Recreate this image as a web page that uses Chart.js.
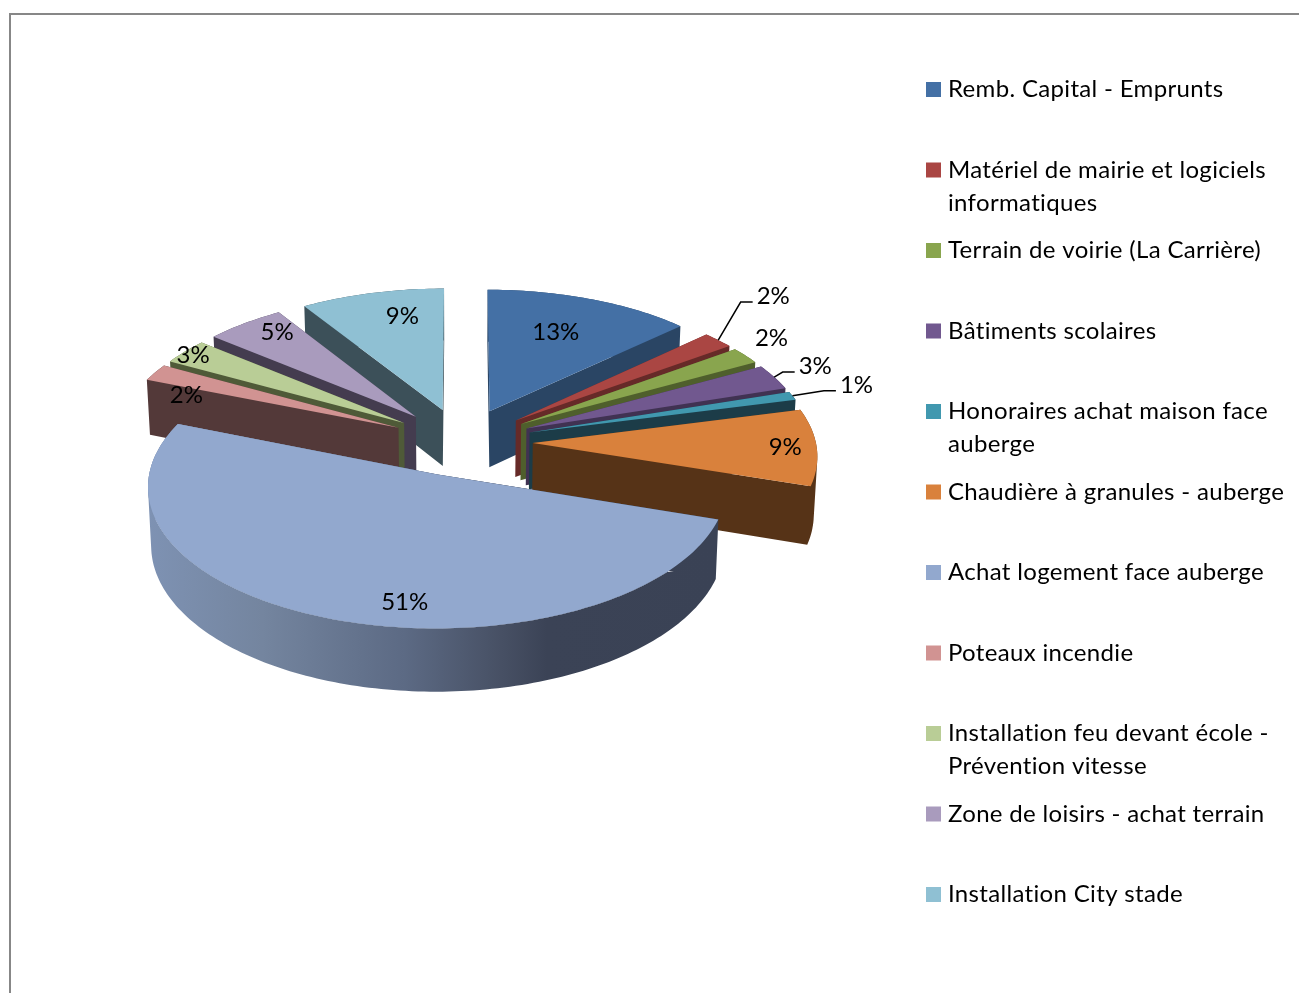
<!DOCTYPE html>
<html>
<head>
<meta charset="utf-8">
<title>Investissements</title>
<script src="https://cdn.jsdelivr.net/npm/chart.js@4"></script>
<style>
  html, body { margin: 0; padding: 0; background: #fff; overflow: hidden; }
  canvas { display: block; }
</style>
</head>
<body>
<canvas id="pieChart" width="1299" height="993"></canvas>
<script>
// data
var categories = [
    ['Remb. Capital - Emprunts'],
    ['Matériel de mairie et logiciels', 'informatiques'],
    ['Terrain de voirie (La Carrière)'],
    ['Bâtiments scolaires'],
    ['Honoraires achat maison face', 'auberge'],
    ['Chaudière à granules - auberge'],
    ['Achat logement face auberge'],
    ['Poteaux incendie'],
    ['Installation feu devant école -', 'Prévention vitesse'],
    ['Zone de loisirs - achat terrain'],
    ['Installation City stade']
];
var values = [13, 2, 2, 3, 1, 9, 51, 2, 3, 5, 9];

// colours
var topColors = ['#4470a5', '#aa4643', '#89a54e', '#71588f', '#4198af', '#d9813c', '#92a8ce', '#d19392', '#b9cd96', '#a99bbd', '#8fc0d3'];
var wallColors = ['#2a4564', '#662a28', '#4f5f2c', '#403252', '#1c3c48', '#563317', '#3b4356', '#533939', '#4f5a38', '#443c4f', '#3c5059'];

// fake 3D, a tilted pie seen in perspective
var explode = 0.25;      // slice pull out, fraction of the radius
var squash = 0.4806;     // tilt
var persp = 0.08;        // near side gets bigger
var wallHeight = 57;
var wallTaper = 0.99;    // bottom of the wall is further away

// percent labels: radial position + small nudge, leader line or not
var labelFrac = [0.7, 1, 1, 1, 1, 0.9, 0.8, 0.8, 0.9, 0.8, 0.8];
var labelNudge = [[-6, 0], [55, -45], [26, -18], [41, -12], [64, -12], [-3, -1], [52, 13], [-16, 11], [-13, -4], [0, -10], [17, 0]];
var leader = [false, true, false, true, true, false, false, false, false, false, false];

var baseRadius = 283;
var fontName = '24px Lato';

function midAngle(arc) {
    return (arc.startAngle + arc.endAngle) / 2;
}

// pie plane (unit radius, x right, y towards viewer) to screen
function project(arc, X, Y) {
    var d = 1 - persp * Y;
    return {
        x: arc.x + arc.outerRadius * X / d,
        y: arc.y + arc.outerRadius * squash * Y / d,
        d: d
    };
}

// outline of the top face of a slice, taken from the arc element
function outline(arc) {
    var a = midAngle(arc);
    var ox = Math.cos(a) * explode;
    var oy = Math.sin(a) * explode;
    var pts = [project(arc, ox, oy)];
    var n = Math.max(2, Math.ceil((arc.endAngle - arc.startAngle) / 0.02));
    for (var k = 0; k <= n; k++) {
        var t = arc.startAngle + (arc.endAngle - arc.startAngle) * k / n;
        pts.push(project(arc, ox + Math.cos(t), oy + Math.sin(t)));
    }
    return pts;
}

function wallPoint(arc, p) {
    return {
        x: arc.x + (p.x - arc.x) * wallTaper,
        y: p.y + wallHeight / p.d
    };
}

// all side faces in one path, same winding, so no seams between them
function drawWall(ctx, arc, pts, color) {
    ctx.fillStyle = color;
    ctx.beginPath();
    for (var k = 0; k < pts.length; k++) {
        var a = pts[k];
        var b = pts[(k + 1) % pts.length];
        var c = wallPoint(arc, b);
        var e = wallPoint(arc, a);
        var area = (b.x - a.x) * (c.y - a.y) - (b.y - a.y) * (c.x - a.x);
        ctx.moveTo(a.x, a.y);
        if (area > 0) {
            ctx.lineTo(b.x, b.y);
            ctx.lineTo(c.x, c.y);
            ctx.lineTo(e.x, e.y);
        } else {
            ctx.lineTo(e.x, e.y);
            ctx.lineTo(c.x, c.y);
            ctx.lineTo(b.x, b.y);
        }
        ctx.closePath();
    }
    ctx.fill();
}

function drawTop(ctx, pts, color) {
    ctx.fillStyle = color;
    ctx.beginPath();
    pts.forEach(function(p, k) {
        if (k === 0) ctx.moveTo(p.x, p.y);
        else ctx.lineTo(p.x, p.y);
    });
    ctx.closePath();
    ctx.fill();
}

var pie3d = {
    id: 'pie3d',
    beforeDraw: function(chart) {
        var ctx = chart.ctx;
        ctx.save();
        ctx.fillStyle = '#878787';
        ctx.fillRect(9, 13, 1290, 2);
        ctx.fillRect(9, 13, 2, 980);
        ctx.restore();
    },
    beforeDatasetDraw: function() {
        return false; // slices are drawn below, back to front
    },
    afterDatasetsDraw: function(chart) {
        var ctx = chart.ctx;
        var arcs = chart.getDatasetMeta(0).data;
        var order = arcs.map(function(a, i) { return i; });
        order.sort(function(p, q) {
            return Math.sin(midAngle(arcs[p])) - Math.sin(midAngle(arcs[q]));
        });

        ctx.save();
        order.forEach(function(i) {
            var arc = arcs[i];
            var pts = outline(arc);
            var wall = wallColors[i];
            if (i === 6) {
                // big slice has a shaded rim
                wall = ctx.createLinearGradient(148, 0, 718, 0);
                wall.addColorStop(0, '#7e92b3');
                wall.addColorStop(0.2, '#74859f');
                wall.addColorStop(0.45, '#5c6a84');
                wall.addColorStop(0.62, '#475064');
                wall.addColorStop(0.7, '#3b4356');
                wall.addColorStop(1, '#3a4255');
                drawTop(ctx, pts, wall); // no white shows through at the rim
            }
            drawWall(ctx, arc, pts, wall);
            drawTop(ctx, pts, topColors[i]);
        });
        ctx.restore();

        // percent labels
        var total = values.reduce(function(s, v) { return s + v; }, 0);
        ctx.save();
        ctx.font = fontName;
        ctx.fillStyle = '#000';
        ctx.textAlign = 'center';
        ctx.textBaseline = 'middle';
        arcs.forEach(function(arc, i) {
            var a = midAngle(arc);
            var r = explode + labelFrac[i];
            var p = project(arc, Math.cos(a) * r, Math.sin(a) * r);
            var lx = p.x + labelNudge[i][0];
            var ly = p.y + labelNudge[i][1];
            var txt = Math.round(values[i] / total * 100) + '%';
            if (leader[i]) {
                var x = lx - ctx.measureText(txt).width / 2 - 4;
                ctx.beginPath();
                ctx.moveTo(x, ly + 7);
                ctx.lineTo(x - 12, ly + 7);
                ctx.lineTo(p.x, p.y);
                ctx.strokeStyle = '#000';
                ctx.lineWidth = 1.5;
                ctx.stroke();
            }
            ctx.fillText(txt, lx, ly + 1);
        });
        ctx.restore();

        // legend
        ctx.save();
        ctx.font = fontName;
        ctx.letterSpacing = '0.33px';
        ctx.textAlign = 'left';
        ctx.textBaseline = 'middle';
        chart.data.labels.forEach(function(lines, i) {
            var y = 89.5 + i * 80.5;
            ctx.fillStyle = topColors[i];
            ctx.fillRect(926, y - 7.5, 15, 15);
            ctx.fillStyle = '#000';
            lines.forEach(function(line, n) {
                ctx.fillText(line, 948, y + n * 33);
            });
        });
        ctx.restore();
    }
};

Chart.defaults.font.family = 'Lato';

var ctx = document.getElementById('pieChart').getContext('2d');
var pieChart = new Chart(ctx, {
    type: 'pie',
    data: {
        labels: categories,
        datasets: [{
            data: values,
            backgroundColor: topColors,
            borderWidth: 0
        }]
    },
    options: {
        responsive: false,
        animation: false,
        radius: baseRadius,
        layout: { padding: { left: 0, right: 375, top: 0, bottom: 109 } },
        plugins: {
            legend: { display: false },
            tooltip: { enabled: false }
        }
    },
    plugins: [pie3d]
});
</script>
</body>
</html>
